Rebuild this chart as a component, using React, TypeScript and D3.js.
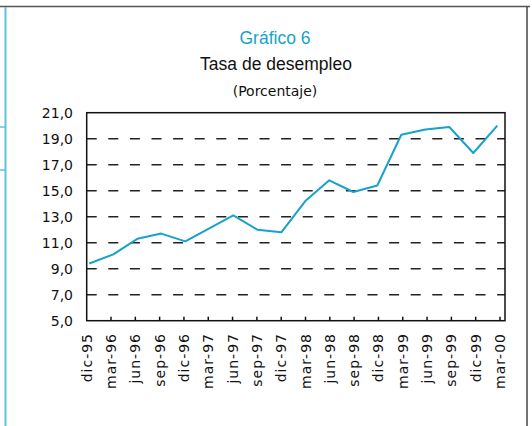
import React, { useEffect, useRef } from 'react';
import * as d3 from 'd3';

const periods = [
  'dic-95', 'mar-96', 'jun-96', 'sep-96', 'dic-96', 'mar-97', 'jun-97', 'sep-97', 'dic-97',
  'mar-98', 'jun-98', 'sep-98', 'dic-98', 'mar-99', 'jun-99', 'sep-99', 'dic-99', 'mar-00',
];
const desempleo = [
  9.4, 10.1, 11.3, 11.7, 11.1, 12.1, 13.1, 12.0, 11.8,
  14.2, 15.8, 14.9, 15.4, 19.3, 19.7, 19.9, 17.9, 20.0,
];
const yTicks = [5, 7, 9, 11, 13, 15, 17, 19, 21];
const gridValues = [7, 9, 11, 13, 15, 17, 19];

const W = 532;
const H = 426;

const App: React.FC = () => {
  const svgRef = useRef<SVGSVGElement>(null);

  useEffect(() => {
    if (!svgRef.current) return;
    const svg = d3.select(svgRef.current);
    svg.selectAll('*').remove();

    const left = 86.7, right = 505, top = 112.7, bottom = 320.7;
    const axisFont = '"DejaVu Sans", Verdana, sans-serif';
    const titleFont = '"Liberation Sans", Arial, sans-serif';
    const cyan = '#17a2cb';

    // page frame
    svg.append('line').attr('x1', 0).attr('x2', 530).attr('y1', 6.5).attr('y2', 6.5)
      .attr('stroke', '#555').attr('stroke-width', 1.5);
    svg.append('line').attr('x1', 527).attr('x2', 527).attr('y1', 6.5).attr('y2', H)
      .attr('stroke', '#444').attr('stroke-width', 1.5);
    svg.append('line').attr('x1', 5.5).attr('x2', 5.5).attr('y1', 7).attr('y2', H)
      .attr('stroke', '#5bc3dc').attr('stroke-width', 2);
    [127, 170].forEach(y => {
      svg.append('line').attr('x1', 0).attr('x2', 6).attr('y1', y).attr('y2', y)
        .attr('stroke', '#5bc3dc').attr('stroke-width', 1.5);
    });

    // titles
    svg.append('text').attr('x', 275).attr('y', 44).attr('text-anchor', 'middle')
      .attr('font-family', titleFont).attr('font-size', 17.5).attr('fill', cyan).text('Gráfico 6');
    svg.append('text').attr('x', 276).attr('y', 70).attr('text-anchor', 'middle')
      .attr('font-family', titleFont).attr('font-size', 17.5).attr('fill', '#111').text('Tasa de desempleo');
    svg.append('text').attr('x', 275).attr('y', 96).attr('text-anchor', 'middle')
      .attr('font-family', axisFont).attr('font-size', 14).attr('fill', '#111').text('(Porcentaje)');

    const y = d3.scaleLinear().domain([5, 21]).range([bottom, top]);
    const xTick = d3.scaleLinear().domain([0, periods.length - 1]).range([left, 500]);
    const xPt = d3.scaleLinear().domain([0, periods.length - 1]).range([89.3, 497.3]);

    // dashed gridlines
    svg.append('g').selectAll('line').data(gridValues).enter().append('line')
      .attr('x1', left).attr('x2', right)
      .attr('y1', d => y(d)).attr('y2', d => y(d))
      .attr('stroke', '#222').attr('stroke-width', 1.5)
      .attr('stroke-dasharray', '10,11.6');

    // plot frame
    svg.append('rect').attr('x', left).attr('y', top)
      .attr('width', right - left).attr('height', bottom - top)
      .attr('fill', 'none').attr('stroke', '#111').attr('stroke-width', 1.5);

    // y labels
    svg.append('g').selectAll('text').data(yTicks).enter().append('text')
      .attr('x', 73).attr('y', d => y(d)).attr('dy', '0.36em')
      .attr('text-anchor', 'end').attr('font-family', axisFont).attr('font-size', 14)
      .attr('fill', '#111')
      .text(d => d3.format('.1f')(d).replace('.', ','));

    // x ticks (inward)
    svg.append('g').selectAll('line').data(d3.range(1, periods.length)).enter().append('line')
      .attr('x1', d => xTick(d)).attr('x2', d => xTick(d))
      .attr('y1', bottom).attr('y2', bottom - 4)
      .attr('stroke', '#111').attr('stroke-width', 1.5);

    // x labels
    svg.append('g').selectAll('text').data(periods).enter().append('text')
      .attr('transform', (_, i) => `translate(${xTick(i)},333) rotate(-90)`)
      .attr('dy', '0.36em').attr('text-anchor', 'end')
      .attr('font-family', axisFont).attr('font-size', 14).attr('letter-spacing', 1)
      .attr('fill', '#111')
      .text(d => d);

    // series
    const line = d3.line<number>().x((_, i) => xPt(i)).y(d => y(d));
    svg.append('path').attr('d', line(desempleo))
      .attr('fill', 'none').attr('stroke', cyan).attr('stroke-width', 2)
      .attr('stroke-linejoin', 'round');
  }, []);

  return (
    <svg ref={svgRef} width={W} height={H}
      style={{ position: 'absolute', left: 0, top: 0, background: '#fff' }} />
  );
};

export default App;
